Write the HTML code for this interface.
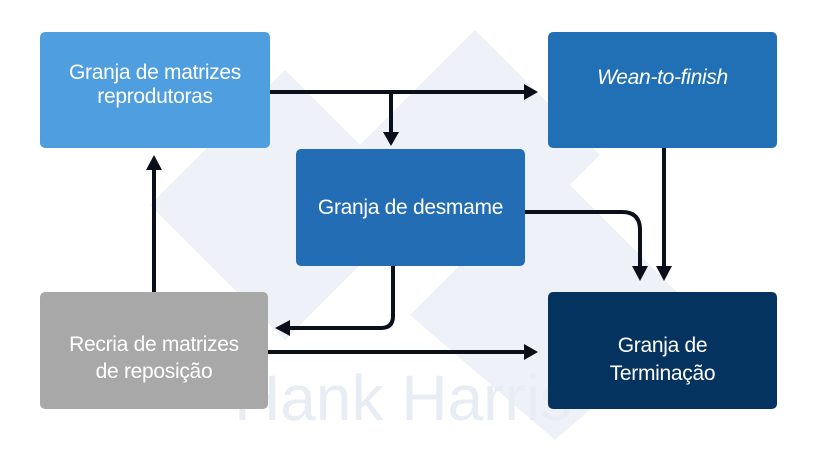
<!DOCTYPE html>
<html><head><meta charset="utf-8"><style>
body{margin:0;background:#fff;width:820px;height:461px;overflow:hidden;font-family:"Liberation Sans",sans-serif}
.b{position:absolute;border-radius:5px;color:#fff;display:flex;align-items:center;justify-content:center;text-align:center;font-size:21px;line-height:24px;letter-spacing:-0.3px}
</style></head><body>
<svg width="820" height="461" style="position:absolute;left:0;top:0">
<g fill="#eef2f8">
<polygon points="285,70 420,205 285,340 150,205"/>
<polygon points="475,30 600,155 475,280 350,155"/>
<polygon points="555,170 700,315 555,440 410,315"/>
</g>
<text x="403" y="420" font-family="Liberation Sans" font-size="64" fill="#e8edf5" text-anchor="middle">Hank Harris</text>
<g stroke="#0b0f1a" stroke-width="4" fill="none">
<line x1="270" y1="92" x2="526" y2="92"/>
<line x1="391" y1="92" x2="391" y2="134"/>
<line x1="154" y1="292" x2="154" y2="168"/>
<path d="M525 212 H622 Q640 212 640 230 V268"/>
<line x1="664" y1="148" x2="664" y2="268"/>
<path d="M393 266 V316 Q393 328 381 328 H288"/>
<line x1="268" y1="352" x2="526" y2="352"/>
</g>
<g fill="#0b0f1a">
<polygon points="538,92 524,84 524,100"/>
<polygon points="391,146 383,132 399,132"/>
<polygon points="154,155 146,170 162,170"/>
<polygon points="640,281 632,266 648,266"/>
<polygon points="664,281 656,266 672,266"/>
<polygon points="275,328 290,320 290,336"/>
<polygon points="538,352 524,344 524,360"/>
</g>
</svg>
<div class="b" style="left:40px;top:32px;width:230px;height:116px;background:#4f9ee0;padding-bottom:10px;box-sizing:border-box">Granja de matrizes<br>reprodutoras</div>
<div class="b" style="left:548px;top:32px;width:229px;height:116px;background:#2170b5;align-items:flex-start;padding-top:34px;box-sizing:border-box;font-style:italic">Wean-to-finish</div>
<div class="b" style="left:296px;top:149px;width:229px;height:117px;background:#226db4">Granja de desmame</div>
<div class="b" style="left:40px;top:292px;width:228px;height:117px;background:#a8a8a8;line-height:27px;padding-top:14px;box-sizing:border-box">Recria de matrizes<br>de reposição</div>
<div class="b" style="left:548px;top:292px;width:229px;height:117px;background:#05335f;line-height:28px;padding-top:18px;box-sizing:border-box">Granja de<br>Terminação</div>
</body></html>
